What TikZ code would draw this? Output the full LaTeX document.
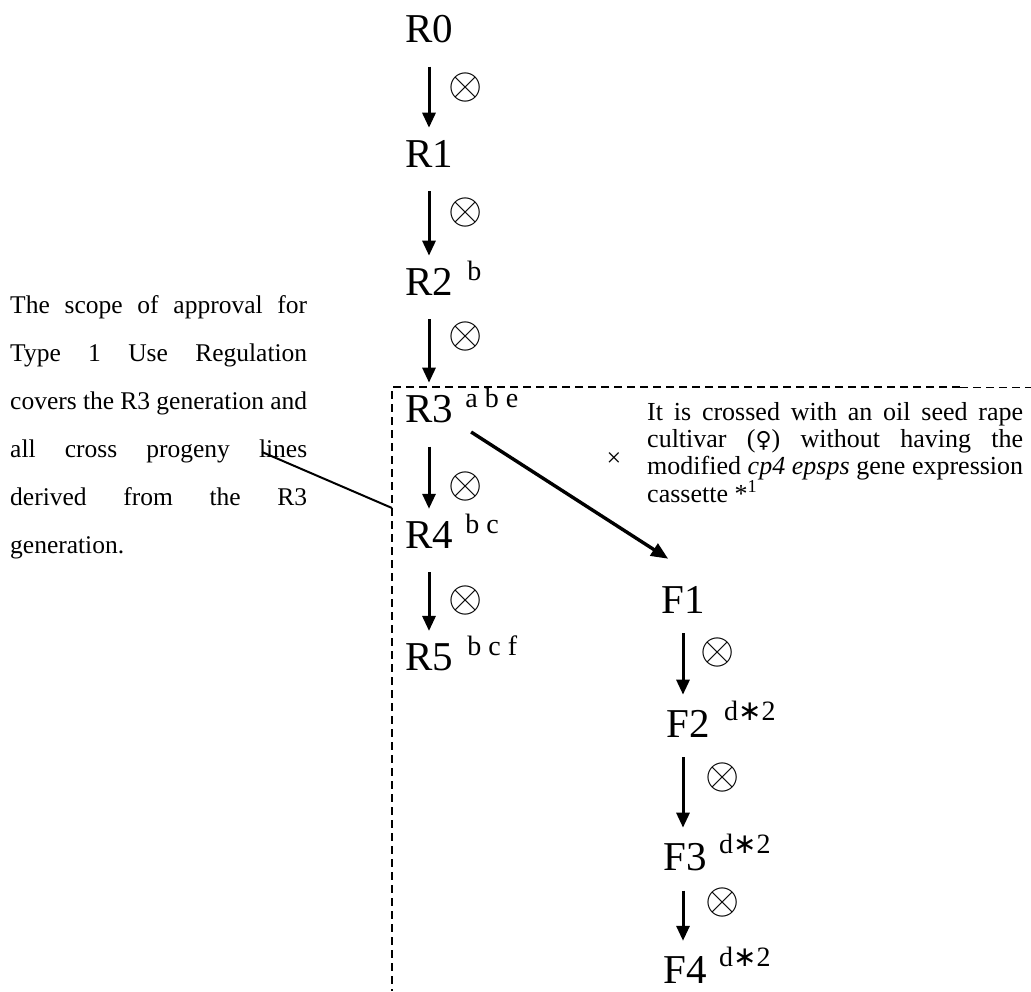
\documentclass[tikz,border=0pt]{standalone}
\usepackage{fix-cm}
\usepackage{fontspec}
\setmainfont{Liberation Serif}
\newfontfamily\symf{DejaVu Sans}
\usetikzlibrary{arrows.meta,calc}
\begin{document}
\begin{tikzpicture}[x=1pt,y=-1pt,
  gen/.style={inner sep=0pt, anchor=base, font=\fontsize{41}{41}\selectfont},
  sup/.style={inner sep=0pt, anchor=base west, font=\fontsize{28}{28}\selectfont},
  selfx/.style={inner sep=0pt, font=\fontsize{44}{44}\selectfont},
  arr/.style={line width=3pt, -{Triangle[length=15pt,width=13pt]}, shorten <=24pt, shorten >=12pt},
  farr/.style={line width=3pt, -{Triangle[length=15pt,width=13pt]}, shorten <=20pt, shorten >=15pt},
  darr/.style={line width=3.4pt, -{Triangle[length=17pt,width=14pt]}},
  boxthick/.style={line width=1.8pt, dash pattern=on 8pt off 5pt},
  boxthin/.style={line width=1pt, dash pattern=on 8pt off 5pt},
  lead/.style={line width=2pt},
  para/.style={inner sep=0pt, anchor=north west, align=justify}
]
\useasboundingbox (0,0) rectangle (1031,991);

% dashed scope box
\coordinate (boxsplit) at (960,387);
\coordinate (boxcorner) at (392,387);
\coordinate (boxbottom) at (392,991);
\coordinate (boxright) at (1031,387);
\draw[boxthick] (boxsplit) -- (boxcorner) -- (boxbottom);
\draw[boxthin] (boxsplit) -- (boxright);

% R generations
\node[gen] (R0) at (429,42) {R0};
\node[gen] (R1) at (429,167) {R1};
\node[gen] (R2) at (429,295) {R2};
\node[gen] (R3) at (429,422) {R3};
\node[gen] (R4) at (429,548) {R4};
\node[gen] (R5) at (429,670) {R5};

\node[sup] (R2s) at ($(R2.base east)+(14,-15)$) {b};
\node[sup] (R3s) at ($(R3.base east)+(12,-15)$) {a b e};
\node[sup] (R4s) at ($(R4.base east)+(12,-15)$) {b c};
\node[sup] (R5s) at ($(R5.base east)+(14,-15)$) {b c f};

\draw[arr] (R0.south) -- (R1.north);
\draw[arr] (R1.south) -- (R2.north);
\draw[arr] (R2.south) -- (R3.north);
\draw[arr] (R3.south) -- (R4.north);
\draw[arr] (R4.south) -- (R5.north);

\node[selfx] (s1) at (466,87) {$\otimes$};
\node[selfx] (s2) at (466,212) {$\otimes$};
\node[selfx] (s3) at (466,336) {$\otimes$};
\node[selfx] (s4) at (466,486) {$\otimes$};
\node[selfx] (s5) at (466,600) {$\otimes$};

% F generations
\node[gen] (F1) at (683,613) {F1};
\node[gen] (F2) at (688,737) {F2};
\node[gen] (F3) at (685,870) {F3};
\node[gen] (F4) at (685,983) {F4};

\node[sup] (F2s) at ($(F2.base east)+(14,-17)$) {d{\symf ∗}2};
\node[sup] (F3s) at ($(F3.base east)+(12,-17)$) {d{\symf ∗}2};
\node[sup] (F4s) at ($(F4.base east)+(12,-17)$) {d{\symf ∗}2};

\draw[farr] (F1.south) -- (F1.south |- F2.north);
\draw[farr] (F1.south |- F2.south) -- (F1.south |- F3.north);
\draw[farr] (F1.south |- F3.south) -- (F1.south |- F4.north);

\node[selfx] (s6) at (718,652) {$\otimes$};
\node[selfx] (s7) at (723,777) {$\otimes$};
\node[selfx] (s8) at (723,902) {$\otimes$};

% cross
\coordinate (crossstart) at ($(R3.base east)+(18,10)$);
\coordinate (crossend) at ($(F1.north west)+(7,-27)$);
\draw[darr] (crossstart) -- (crossend);
\node[inner sep=0pt, font=\fontsize{26}{26}\selectfont] (cross) at (614,460) {×};

\node[para, text width=376pt, font=\fontsize{26}{27.3}\selectfont] (crosstext) at (647,402)
  {\hyphenpenalty=10000 It is crossed with an oil seed rape\linebreak
   cultivar ({\symf\fontsize{22}{27.3}\selectfont ♀}) without having the\linebreak
   modified \textit{cp4 epsps} gene expression\linebreak
   cassette *\textsuperscript{1}};

% scope description
\node[para, text width=297pt, font=\fontsize{25.5}{48}\selectfont] (scope) at (10,295.5)
  {\hyphenpenalty=10000 The scope of approval for\linebreak
   Type 1 Use Regulation\linebreak
   covers the R3 generation and\linebreak
   all cross progeny lines\linebreak
   derived from the R3\linebreak
   generation.};

\coordinate (leadstart) at (262,452);
\draw[lead] (leadstart) -- (boxcorner |- 0,508);
\end{tikzpicture}
\end{document}
